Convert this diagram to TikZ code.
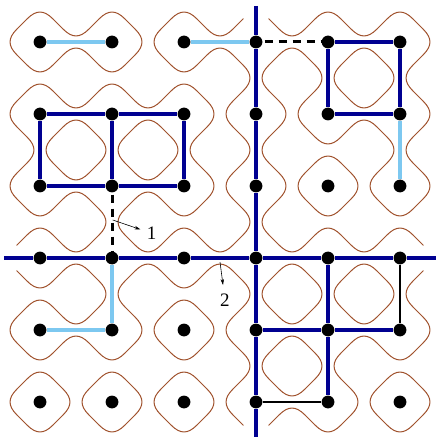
\documentclass[tikz,border=0pt]{standalone}
\usepackage{fontspec}
\setmainfont{Liberation Serif}
\usetikzlibrary{arrows.meta}
\definecolor{navyb}{RGB}{0,0,145}
\definecolor{skyb}{RGB}{125,200,240}
\definecolor{loopc}{RGB}{160,82,45}
\newcommand\legS{0.1768}
\newcommand\ctlK{0.053}
\newcommand\mdarc[6]{%
  \draw[loopline] ({#1+(#3)*\legS},{#2+(#4)*\legS}) .. controls ({#1+(#3)*\ctlK},{#2+(#4)*\ctlK}) and ({#1+(#5)*\ctlK},{#2+(#6)*\ctlK}) .. ({#1+(#5)*\legS},{#2+(#6)*\legS});}
\newcommand\arcT[2]{\mdarc{#1}{#2}{-1}{-1}{1}{-1}}
\newcommand\arcB[2]{\mdarc{#1}{#2}{-1}{1}{1}{1}}
\newcommand\arcL[2]{\mdarc{#1}{#2}{-1}{-1}{-1}{1}}
\newcommand\arcR[2]{\mdarc{#1}{#2}{1}{-1}{1}{1}}
\begin{document}
\begin{tikzpicture}[x=72pt,y=-72pt,
  dot/.style={circle,fill=black,inner sep=0pt,minimum size=12.8pt},
  loopline/.style={loopc,line width=1pt,line cap=round},
  heavy/.style={navyb,line width=3.3pt},
  lightedge/.style={skyb,line width=3.3pt},
  dashedge/.style={black,line width=3pt,dash pattern=on 8pt off 6pt,dash phase=-2pt},
  solidedge/.style={black,line width=2.8pt},
  lab/.style={font=\fontsize{19}{21}\selectfont,inner sep=1.5pt},
  pointer/.style={-{Stealth[length=6pt,width=3.5pt]},line width=0.6pt}]
\useasboundingbox (-0.5556,-0.5833) rectangle (5.4861,5.4861);

% straight parts of the loops
\foreach \c in {0,...,5}{\foreach \sg in {-1,1}{\foreach \yy in {0,...,5}{\foreach \dy in {-1,1}{
  \draw[loopline] ({\c+0.5*\sg-\sg*\legS},{\yy+\dy*\legS}) -- ({\c+\sg*\legS},{\yy+0.5*\dy-\dy*\legS});
}}}}
% turning parts of the loops
\foreach \xx/\yy in {0.5/0,2.5/0,3.5/0,4.5/0,0.5/1,1.5/1,4.5/1,0.5/2,1.5/2,
  0.5/3,1.5/3,2.5/3,3.5/3,4.5/3,0.5/4,3.5/4,4.5/4,3.5/5,
  0/0.5,0/2.5,0/3.5,0/4.5,1/0.5,1/4.5,2/0.5,2/2.5,2/3.5,2/4.5,4/1.5,4/2.5,5/2.5,5/4.5}
  {\arcT{\xx}{\yy}\arcB{\xx}{\yy}}
\foreach \xx in {0,1,2,4,5}{\arcB{\xx}{-0.5}\arcT{\xx}{5.5}}
\foreach \xx/\yy in {1.5/0,2.5/1,3.5/1,2.5/2,3.5/2,4.5/2,1.5/4,2.5/4,
  0.5/5,1.5/5,2.5/5,4.5/5,0/1.5,1/1.5,1/2.5,1/3.5,2/1.5,
  3/0.5,3/1.5,3/2.5,3/3.5,3/4.5,4/0.5,4/3.5,4/4.5,5/0.5,5/1.5,5/3.5}
  {\arcL{\xx}{\yy}\arcR{\xx}{\yy}}
\foreach \yy in {0,1,2,4,5}{\arcR{-0.5}{\yy}\arcL{5.5}{\yy}}

% sites
\foreach \c in {0,...,5}{\foreach \r in {0,...,5}{\node[dot] (p\c\r) at (\c,\r) {};}}
\coordinate (hl) at (-0.5,3);
\coordinate (hr) at (5.5,3);
\coordinate (vt) at (3,-0.5);
\coordinate (vb) at (3,5.5);

% edges
\draw[lightedge] (p00) -- (p10);
\draw[lightedge] (p20) -- (p30);
\draw[lightedge] (p51) -- (p52);
\draw[lightedge] (p13) -- (p14);
\draw[lightedge] (p04) -- (p14);

\draw[heavy] (p01) -- (p11) -- (p21);
\draw[heavy] (p02) -- (p12) -- (p22);
\draw[heavy] (p01) -- (p02);
\draw[heavy] (p11) -- (p12);
\draw[heavy] (p21) -- (p22);
\draw[heavy] (p40) -- (p50);
\draw[heavy] (p41) -- (p51);
\draw[heavy] (p40) -- (p41);
\draw[heavy] (p50) -- (p51);
\draw[heavy] (hl) -- (p03) -- (p13) -- (p23) -- (p33) -- (p43) -- (p53) -- (hr);
\draw[heavy] (vt) -- (p30) -- (p31) -- (p32) -- (p33) -- (p34) -- (p35) -- (vb);
\draw[heavy] (p34) -- (p44) -- (p54);
\draw[heavy] (p43) -- (p44) -- (p45);

\draw[dashedge] (p12) -- (p13);
\draw[dashedge] (p30) -- (p40);
\draw[solidedge] (p53) -- (p54);
\draw[solidedge] (p35) -- (p45);

% labels
\node[lab] (l1) at (1.551,2.657) {1};
\coordinate (a1) at (1.0097,2.472);
\draw[pointer,shorten >=5pt] (a1) -- (l1);
\node[lab] (l2) at (2.569,3.583) {2};
\coordinate (a2) at (2.5,3.056);
\draw[pointer,shorten >=7pt] (a2) -- (l2);
\end{tikzpicture}
\end{document}
